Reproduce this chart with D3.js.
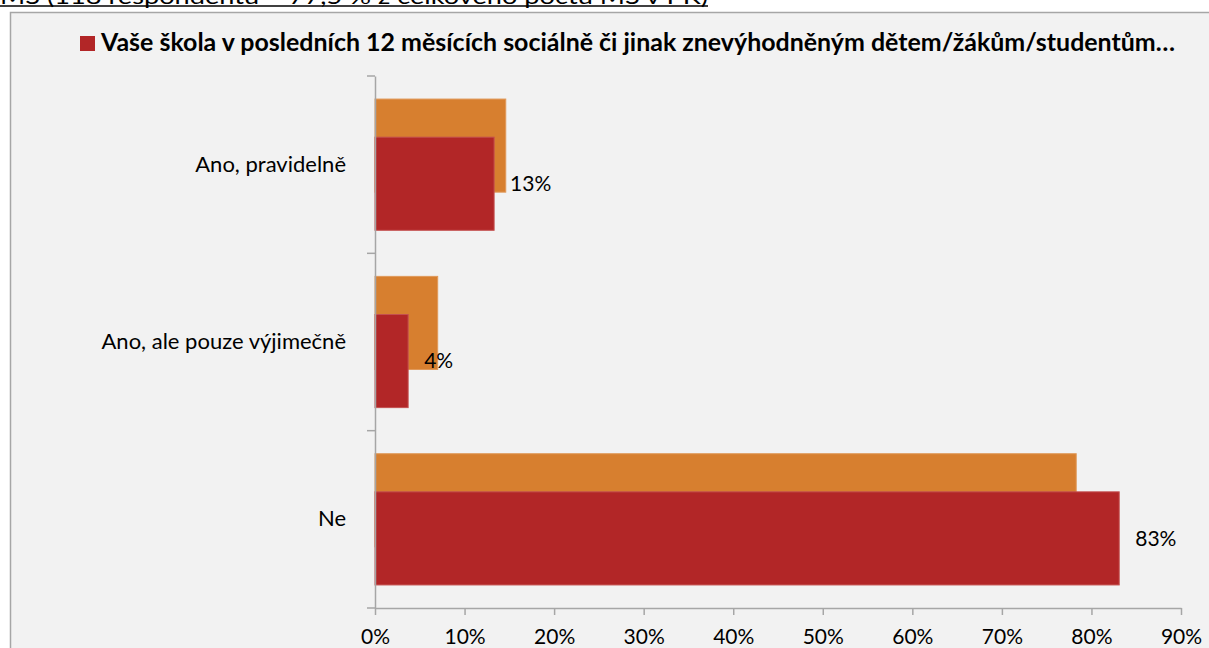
<!DOCTYPE html>
<html><head><meta charset="utf-8">
<script src="https://cdn.jsdelivr.net/npm/d3@7"></script>
<style>
html,body{margin:0;padding:0;background:#fff;overflow:hidden}
svg{display:block}
text{font-family:Lato,"Open Sans",sans-serif}
</style></head>
<body>
<svg id="c" width="1209" height="648"></svg>
<script>
const categories = ["Ano, pravidelně", "Ano, ale pouze výjimečně", "Ne"];
const seriesPrev = [0.146, 0.070, 0.783];   // orange (no legend entry)
const seriesCur  = [0.133, 0.037, 0.831];   // red, labelled
const valueLabels = ["13%", "4%", "83%"];
const xTicks = [0, 0.1, 0.2, 0.3, 0.4, 0.5, 0.6, 0.7, 0.8, 0.9];
const legendTitle = "Vaše škola v posledních 12 měsících sociálně či jinak znevýhodněným dětem/žákům/studentům…";
const headerText = "MŠ (118 respondentů = 77,5 % z celkového počtu MŠ v PK)";

const svg = d3.select("#c");

// header text (cut at the top, as in the reference)
svg.append("text").attr("x", 0).attr("y", 4)
  .attr("font-size", 22).attr("textLength", 708).attr("lengthAdjust", "spacingAndGlyphs")
  .attr("fill", "#000").text(headerText);
svg.append("line").attr("x1", 0).attr("x2", 708).attr("y1", 6).attr("y2", 6)
  .attr("stroke", "#000").attr("stroke-width", 1.5);

// chart area
svg.append("rect").attr("x", 10.5).attr("y", 12.5).attr("width", 1210).attr("height", 650)
  .attr("fill", "#f2f2f2").attr("stroke", "#a6a6a6").attr("stroke-width", 1.5);

// legend
svg.append("rect").attr("x", 80).attr("y", 36).attr("width", 15).attr("height", 15).attr("fill", "#b22627");
svg.append("text").attr("x", 101).attr("y", 51).attr("font-size", 24).attr("font-weight", "bold")
  .attr("textLength", 1074).attr("lengthAdjust", "spacingAndGlyphs").attr("fill", "#000").text(legendTitle);

const x = d3.scaleLinear().domain([0, 0.9]).range([375, 1181]);
const y = d3.scaleBand().domain(categories).range([76, 608]);
const bw = y.bandwidth();
const barH = bw * 0.525;
const offPrev = bw * 0.13;
const offCur = bw * 0.345;

const g = svg.append("g");
g.selectAll("rect.prev").data(categories).join("rect").attr("class", "prev")
  .attr("x", x(0)).attr("y", d => y(d) + offPrev)
  .attr("width", (d, i) => x(seriesPrev[i]) - x(0)).attr("height", barH)
  .attr("fill", "#d77f2f").attr("stroke", "#e0995a").attr("stroke-width", 1);
g.selectAll("rect.cur").data(categories).join("rect").attr("class", "cur")
  .attr("x", x(0)).attr("y", d => y(d) + offCur)
  .attr("width", (d, i) => x(seriesCur[i]) - x(0)).attr("height", barH)
  .attr("fill", "#b22627").attr("stroke", "#c4504f").attr("stroke-width", 1);

g.selectAll("text.val").data(categories).join("text").attr("class", "val")
  .attr("x", (d, i) => x(seriesCur[i]) + 16).attr("y", d => y(d) + offCur + barH / 2)
  .attr("dy", "0.35em").attr("font-size", 21).attr("fill", "#000")
  .text((d, i) => valueLabels[i]);

// y axis
const yAxis = d3.axisLeft(y).tickSize(0).tickPadding(29);
const ya = svg.append("g").attr("transform", `translate(${x(0)},0)`).call(yAxis);
ya.select(".domain").attr("stroke", "#a6a6a6").attr("stroke-width", 1.5);
ya.selectAll("text").attr("font-size", 22).attr("font-family", "Lato").attr("fill", "#000");
// band boundary ticks
const bounds = categories.map(c => y(c)).concat([y.range()[1]]);
svg.selectAll("line.yt").data(bounds).join("line").attr("class", "yt")
  .attr("x1", x(0) - 8).attr("x2", x(0)).attr("y1", d => d).attr("y2", d => d)
  .attr("stroke", "#a6a6a6").attr("stroke-width", 1.5);

// x axis
const xAxis = d3.axisBottom(x).tickValues(xTicks).tickFormat(d3.format(".0%")).tickSize(7).tickPadding(14).tickSizeOuter(0);
const xa = svg.append("g").attr("transform", `translate(0,${y.range()[1]})`).call(xAxis);
xa.select(".domain").attr("stroke", "#a6a6a6").attr("stroke-width", 1.5);
xa.selectAll(".tick line").attr("stroke", "#a6a6a6").attr("stroke-width", 1.5);
xa.selectAll("text").attr("font-size", 21).attr("font-family", "Lato").attr("fill", "#000");
</script>
</body></html>
